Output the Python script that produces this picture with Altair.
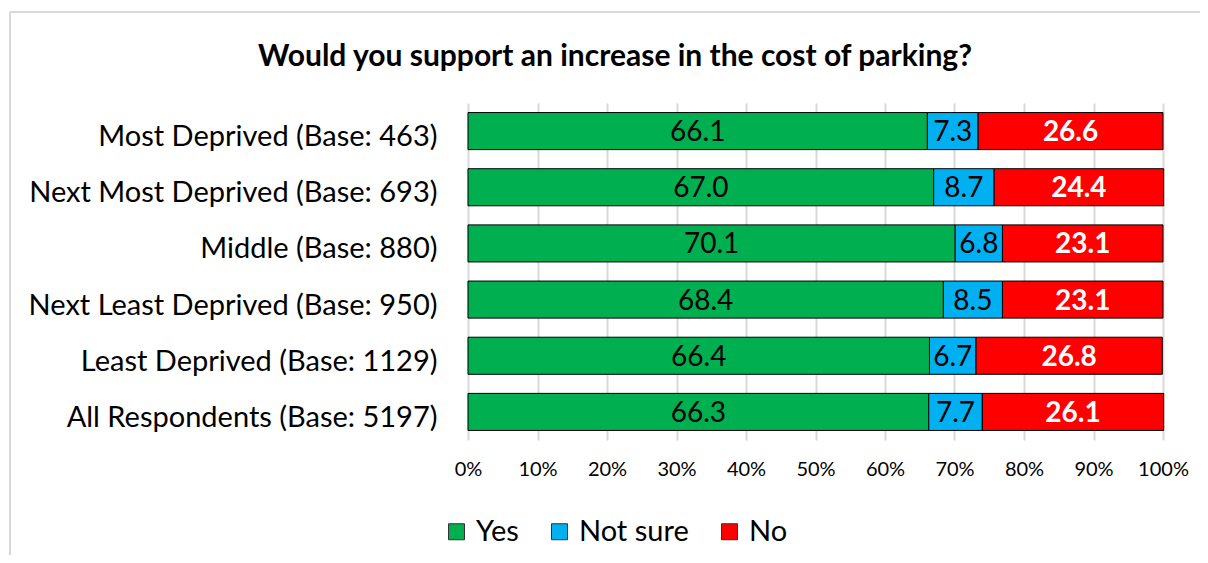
import altair as alt
import pandas as pd

title_text = "Would you support an increase in the cost of parking?"
categories = [
    "Most Deprived (Base: 463)",
    "Next Most Deprived (Base: 693)",
    "Middle (Base: 880)",
    "Next Least Deprived (Base: 950)",
    "Least Deprived (Base: 1129)",
    "All Respondents (Base: 5197)",
]
responses = ["Yes", "Not sure", "No"]
yes_vals = [66.1, 67.0, 70.1, 68.4, 66.4, 66.3]
notsure_vals = [7.3, 8.7, 6.8, 8.5, 6.7, 7.7]
no_vals = [26.6, 24.4, 23.1, 23.1, 26.8, 26.1]
colors = ["#00B050", "#00B0F0", "#FF0000"]
ticks = [0, 10, 20, 30, 40, 50, 60, 70, 80, 90, 100]

rows = []
for i, c in enumerate(categories):
    for j, (r, vals) in enumerate(zip(responses, [yes_vals, notsure_vals, no_vals])):
        rows.append({"category": c, "response": r, "value": vals[i], "order": j})
df = pd.DataFrame(rows)

FONT = "Lato"

base = alt.Chart(df).transform_stack(
    stack="value", as_=["x0", "x1"], groupby=["category"],
    sort=[alt.SortField("order", order="ascending")],
).transform_calculate(mid="(datum.x0 + datum.x1) / 2")

y_enc = alt.Y(
    "category:N", sort=categories, title=None,
    scale=alt.Scale(paddingInner=0.34, paddingOuter=0.17),
    axis=alt.Axis(labelFontSize=29, labelFont=FONT, labelColor="black",
                  labelPadding=31, ticks=False, domain=False, labelLimit=500,
                  labelOffset=6),
)

bars = base.mark_bar(stroke="black", strokeWidth=1).encode(
    x=alt.X("x0:Q", title=None,
            scale=alt.Scale(domain=[0, 100], nice=False),
            axis=alt.Axis(values=ticks, labelExpr="datum.value + '%'",
                          labelFontSize=20, labelFont=FONT, labelColor="black",
                          labelPadding=19, ticks=False, domain=False,
                          labelOverlap=False, labelFlush=False,
                          grid=True, gridColor="#d9d9d9", gridWidth=2)),
    x2="x1:Q",
    y=y_enc,
    color=alt.Color("response:N", sort=responses,
                    scale=alt.Scale(domain=responses, range=colors),
                    legend=alt.Legend(title=None, orient="none", direction="horizontal",
                                      legendX=-26, legendY=414,
                                      symbolType="square", symbolSize=256,
                                      symbolStrokeColor="#333333", symbolStrokeWidth=1,
                                      symbolOpacity=1,
                                      labelFontSize=29, labelFont=FONT, labelColor="black",
                                      columnPadding=26, labelOffset=5)),
    order=alt.Order("order:Q"),
)

labels_dark = base.transform_filter("datum.response != 'No'").mark_text(
    fontSize=28, font=FONT, color="black", baseline="middle", dy=2
).encode(
    x="mid:Q", y=alt.Y("category:N", sort=categories),
    text=alt.Text("value:Q", format=".1f"),
)
labels_light = base.transform_filter("datum.response == 'No'").mark_text(
    fontSize=28, font=FONT, color="white", fontWeight="bold", baseline="middle", dy=2
).encode(
    x="mid:Q", y=alt.Y("category:N", sort=categories),
    text=alt.Text("value:Q", format=".1f"),
)

one = pd.DataFrame({"t": [title_text]})
title_mark = alt.Chart(one).mark_text(
    font=FONT, fontSize=30, fontWeight="bold", color="black",
    align="center", baseline="middle"
).encode(text="t:N", x=alt.value(147), y=alt.value(-46))

border_top = alt.Chart(one).mark_rule(color="#d9d9d9", strokeWidth=2).encode(
    x=alt.value(-458), x2=alt.value(760), y=alt.value(-91)
)
border_left = alt.Chart(one).mark_rule(color="#d9d9d9", strokeWidth=2).encode(
    x=alt.value(-458), y=alt.value(-91), y2=alt.value(460)
)

chart = alt.layer(border_top, border_left, bars, labels_dark, labels_light, title_mark).properties(
    width=695, height=337,
    autosize=alt.AutoSizeParams(type="none"),
    padding={"left": 460, "top": 95, "right": 37, "bottom": 115},
).configure_view(stroke=None).configure_axisY(grid=False)

chart.save("out.html", embed_options={"renderer": "svg", "actions": False})
